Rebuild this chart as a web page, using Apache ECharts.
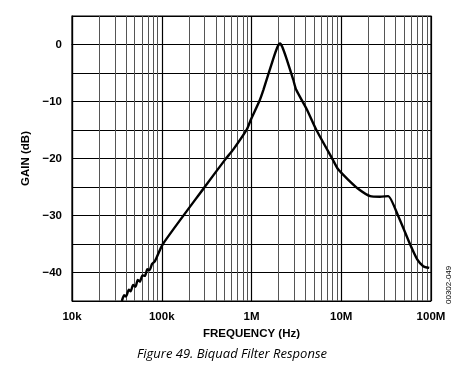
<!DOCTYPE html>
<html><head><meta charset="utf-8">
<script src="https://cdn.jsdelivr.net/npm/echarts@6/dist/echarts.min.js"></script>
<style>html,body{margin:0;padding:0;background:#fff}#c{width:464px;height:378px}</style>
</head><body><div id="c"></div>
<script>
// Frequency (Hz) and gain (dB)
var freqHz = [36e3,38e3,40e3,43e3,45e3,48e3,51e3,54e3,57e3,61e3,65e3,69e3,73e3,78e3,84e3,103e3,
  291e3,508e3,628e3,887e3,982e3,1.225e6,1.36e6,1.74e6,1.95e6,2.08e6,2.2e6,2.47e6,2.91e6,3.14e6,4.14e6,5.25e6,
  8.05e6,9.23e6,11.9e6,15.4e6,21e6,27e6,33.3e6,43.1e6,58.6e6,70.2e6,82e6,95.5e6];
var gainDb = [-45,-44.0,-44.2,-43.0,-43.3,-42.2,-42.5,-41.3,-41.6,-40.5,-40.6,-39.4,-39.6,-38.5,-38.0,-35,
  -25.3,-20.2,-18.4,-14.9,-13.2,-9.9,-7.9,-2.6,-0.4,0.2,-0.4,-2.6,-6.1,-7.9,-11.4,-14.9,
  -20.2,-21.9,-23.7,-25.3,-26.6,-26.7,-26.6,-30.1,-35.1,-37.7,-38.9,-39.2];
var xTickValues = [1e4,1e5,1e6,1e7,1e8];
var xTickLabels = ['10k','100k','1M','10M','100M'];
var yLabelValues = [0,-10,-20,-30,-40];
var minorFreqs = [];
[1e4,1e5,1e6,1e7].forEach(function(d){for(var k=2;k<=9;k++)minorFreqs.push(k*d);});

var chart = echarts.init(document.getElementById('c'), null, {renderer:'canvas'});
var data = freqHz.map(function(f,i){return [f,gainDb[i]];});
var font = 'Liberation Sans, Arial, sans-serif';
chart.setOption({
  animation:false,
  grid:{left:72,top:16,right:33,bottom:77,show:true,borderColor:'#000',borderWidth:1.2},
  xAxis:{type:'log',logBase:10,min:1e4,max:1e8,
    name:'FREQUENCY (Hz)',nameLocation:'middle',nameGap:26,
    nameTextStyle:{fontFamily:font,fontWeight:'bold',fontSize:11.5,color:'#000'},
    axisLine:{show:true,lineStyle:{color:'#000',width:1.2}},axisTick:{show:false},
    axisLabel:{margin:10,fontFamily:font,fontWeight:'bold',fontSize:11.5,color:'#000',
      formatter:function(v){var i=xTickValues.indexOf(v);return i>=0?xTickLabels[i]:'';}},
    splitLine:{show:true,lineStyle:{color:'#000',width:1.2}}},
  yAxis:{type:'value',min:-45,max:5,interval:5,
    name:'GAIN (dB)',nameLocation:'middle',nameGap:40,nameRotate:90,
    nameTextStyle:{fontFamily:font,fontWeight:'bold',fontSize:11.5,color:'#000'},
    axisLine:{show:true,lineStyle:{color:'#000',width:1.2}},axisTick:{show:false},
    axisLabel:{margin:10,fontFamily:font,fontWeight:'bold',fontSize:11.5,color:'#000',
      formatter:function(v){return yLabelValues.indexOf(v)>=0?(v<0?'\u2212'+(-v):String(v)):'';}},
    splitLine:{show:true,lineStyle:{color:'#000',width:1.2}}},
  series:[{type:'line',data:data,symbol:'none',smooth:0.2,
    lineStyle:{color:'#000',width:2.4},
    markLine:{silent:true,symbol:'none',label:{show:false},
      lineStyle:{color:'#555',width:1,type:'solid'},
      data:minorFreqs.map(function(f){return {xAxis:f};})},
    z:5}],
  graphic:[
    {type:'text',left:'center',top:348,style:{text:'Figure 49. Biquad Filter Response',
      font:'italic 13px "Open Sans", "Liberation Sans", sans-serif',fill:'#000'}},
    {type:'text',x:445,y:304,rotation:Math.PI/2,style:{text:'00302-049',
      font:'8px "Liberation Sans", Arial, sans-serif',fill:'#000'}}
  ]
});
</script></body></html>
